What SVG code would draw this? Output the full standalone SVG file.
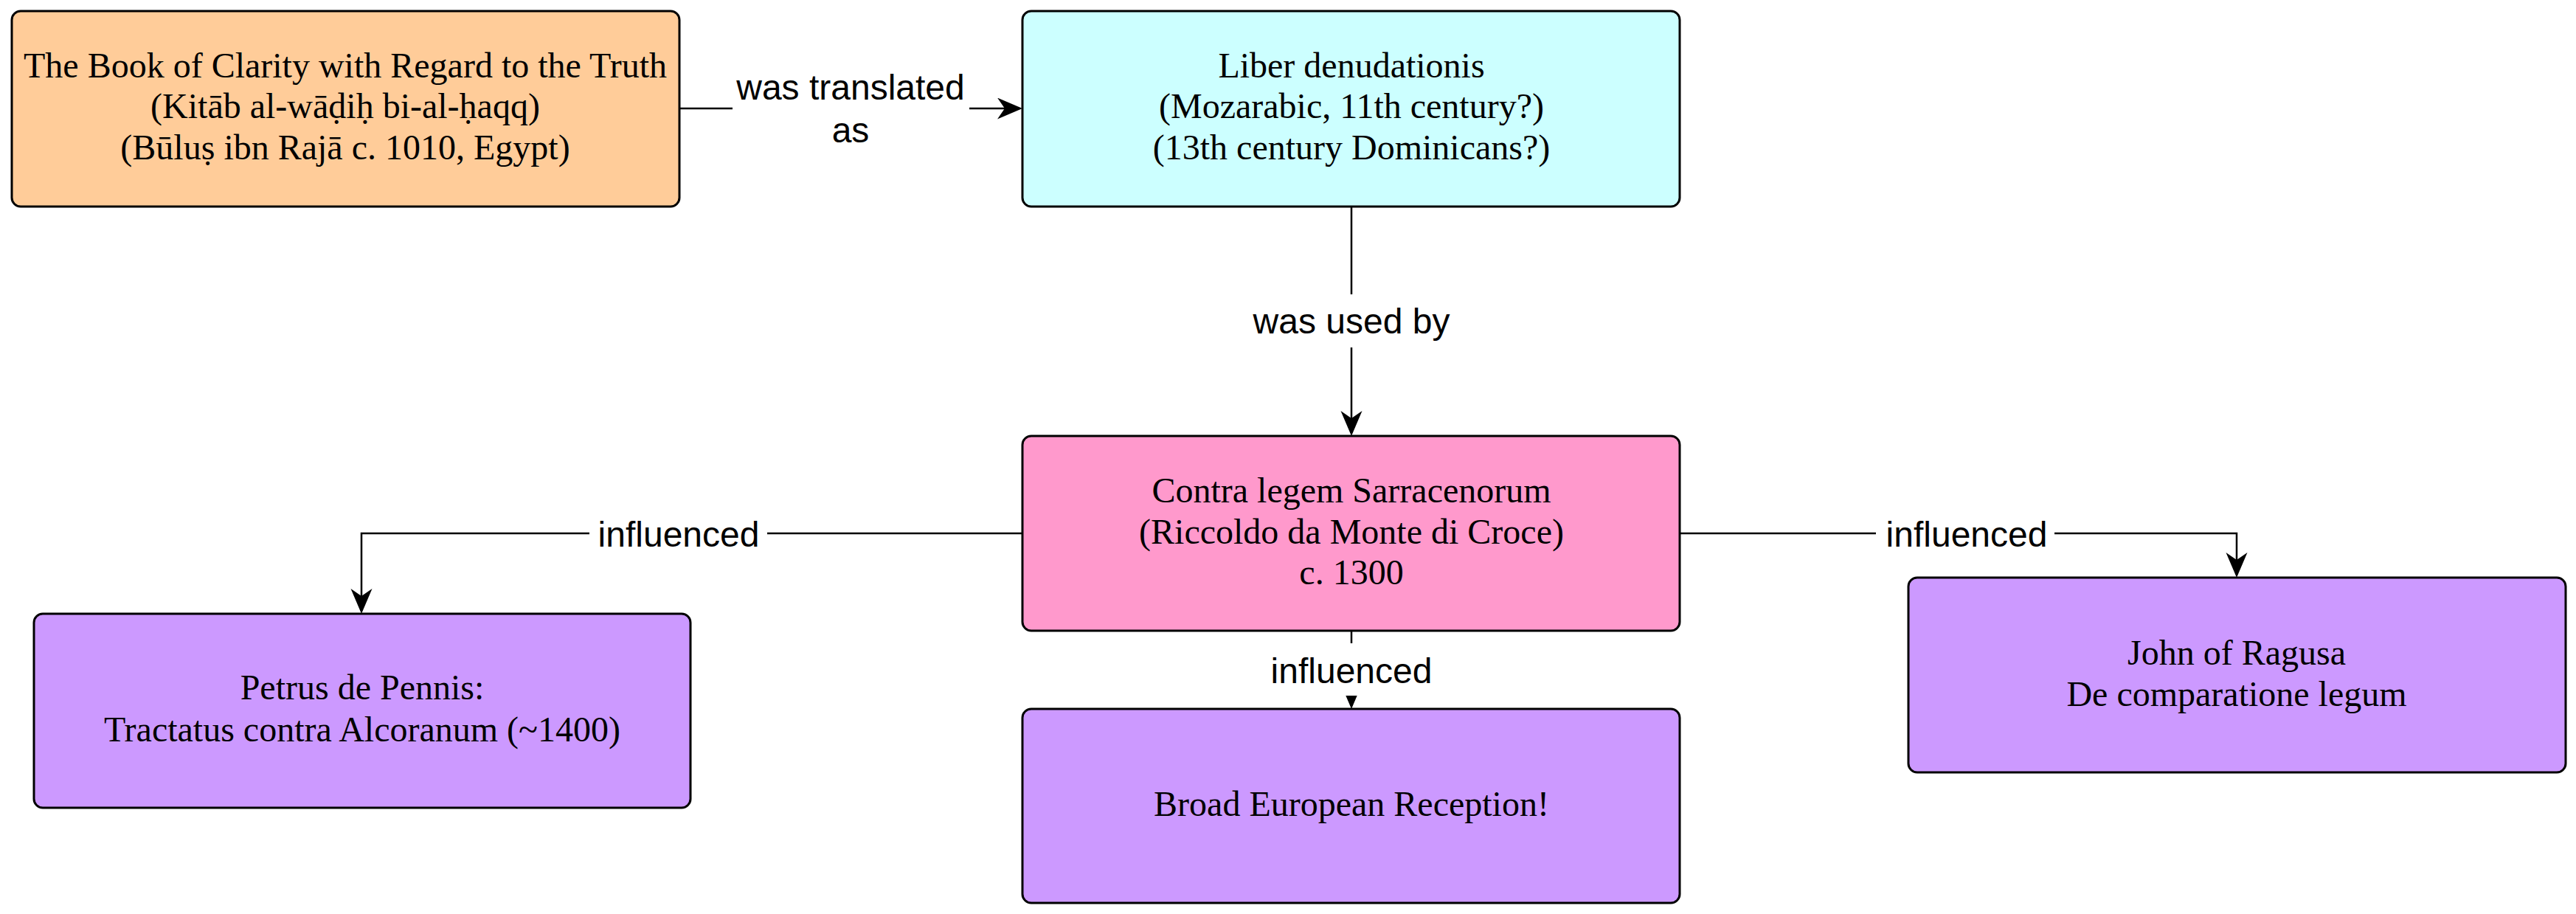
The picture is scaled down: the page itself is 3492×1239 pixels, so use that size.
<svg xmlns="http://www.w3.org/2000/svg" width="3492" height="1239" viewBox="0 0 3492 1239">
<style>
.node{stroke:#000;stroke-width:3}
.ntext{font-family:"Liberation Serif","Times New Roman",serif;font-size:48px;fill:#000;text-anchor:middle}
.edge{fill:none;stroke:#000;stroke-width:2.5}
.lbg{fill:#fff;stroke:none}
.ltext{font-family:"Liberation Sans",Arial,sans-serif;font-size:48px;fill:#000;text-anchor:middle}
</style>
<defs>
<marker id="arrow" markerUnits="userSpaceOnUse" markerWidth="36" markerHeight="30" viewBox="0 0 36 30" refX="30" refY="14.5" orient="auto">
<path d="M34,14.5 L0,0 L10,14.5 L0,29 Z" fill="#000"/>
</marker>
</defs>
<rect width="3492" height="1239" fill="#fff"/>
<g id="connectors">
<g id="e1">
<path class="edge" d="M921,147 L1382,147" marker-end="url(#arrow)"/>
<rect class="lbg" x="993" y="85" width="321" height="124"/>
<text class="ltext" x="1153" y="135">was translated</text>
<text class="ltext" x="1153" y="193">as</text>
</g>
<g id="e2">
<path class="edge" d="M1832,280 L1832,587" marker-end="url(#arrow)"/>
<rect class="lbg" x="1690" y="399" width="284" height="72"/>
<text class="ltext" x="1832" y="452">was used by</text>
</g>
<g id="e3">
<path class="edge" d="M1386,723 L490,723 L490,828" marker-end="url(#arrow)"/>
<rect class="lbg" x="799" y="687" width="241" height="72"/>
<text class="ltext" x="920" y="741">influenced</text>
</g>
<g id="e4">
<path class="edge" d="M2277,723 L3032,723 L3032,779" marker-end="url(#arrow)"/>
<rect class="lbg" x="2543" y="687" width="242" height="72"/>
<text class="ltext" x="2666" y="741">influenced</text>
</g>
<g id="e5">
<path class="edge" d="M1832,855 L1832,957" marker-end="url(#arrow)"/>
<rect class="lbg" x="1711" y="872" width="242" height="71"/>
<text class="ltext" x="1832" y="926">influenced</text>
</g>
</g>
<g id="n1">
<rect class="node" x="16" y="15" width="905" height="265" rx="12" fill="#FFCC99"/>
<text class="ntext" x="468" y="105">The Book of Clarity with Regard to the Truth</text>
<text class="ntext" x="468" y="160">(Kitāb al-wāḍiḥ bi-al-ḥaqq)</text>
<text class="ntext" x="468" y="216">(Būluṣ ibn Rajā c. 1010, Egypt)</text>
</g>
<g id="n2">
<rect class="node" x="1386" y="15" width="891" height="265" rx="12" fill="#CCFFFF"/>
<text class="ntext" x="1832" y="105">Liber denudationis</text>
<text class="ntext" x="1832" y="160">(Mozarabic, 11th century?)</text>
<text class="ntext" x="1832" y="216">(13th century Dominicans?)</text>
</g>
<g id="n3">
<rect class="node" x="1386" y="591" width="891" height="264" rx="12" fill="#FF99CC"/>
<text class="ntext" x="1832" y="681">Contra legem Sarracenorum</text>
<text class="ntext" x="1832" y="737">(Riccoldo da Monte di Croce)</text>
<text class="ntext" x="1832" y="792">c. 1300</text>
</g>
<g id="n4">
<rect class="node" x="46" y="832" width="890" height="263" rx="12" fill="#CC99FF"/>
<text class="ntext" x="491" y="948">Petrus de Pennis:</text>
<text class="ntext" x="491" y="1005">Tractatus contra Alcoranum (~1400)</text>
</g>
<g id="n5">
<rect class="node" x="2587" y="783" width="891" height="264" rx="12" fill="#CC99FF"/>
<text class="ntext" x="3032" y="901">John of Ragusa</text>
<text class="ntext" x="3032" y="957">De comparatione legum</text>
</g>
<g id="n6">
<rect class="node" x="1386" y="961" width="891" height="263" rx="12" fill="#CC99FF"/>
<text class="ntext" x="1832" y="1106">Broad European Reception!</text>
</g>
</svg>
